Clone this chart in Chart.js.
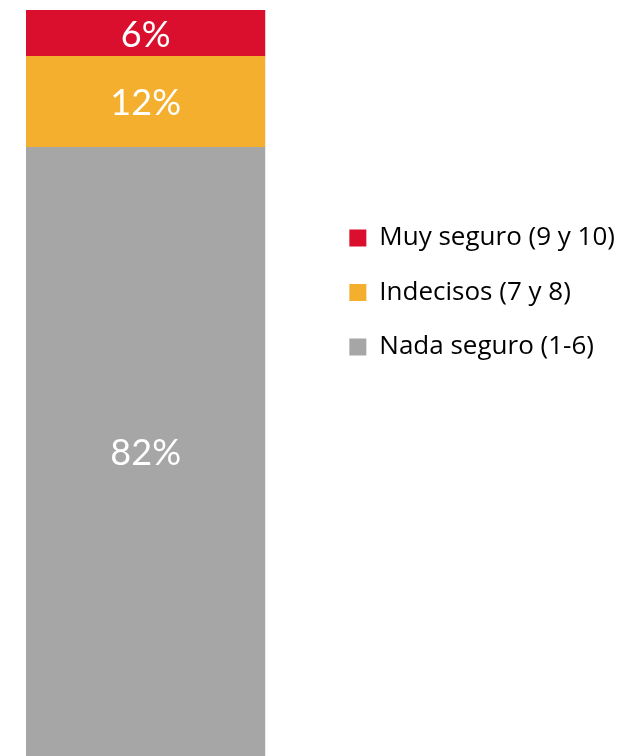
<!DOCTYPE html>
<html>
<head>
<meta charset="utf-8">
<script src="https://cdn.jsdelivr.net/npm/chart.js@4"></script>
<style>
  html, body { margin: 0; padding: 0; background: #fff; }
  #wrap { width: 636px; height: 756px; position: relative; }
</style>
</head>
<body>
<div id="wrap"><canvas id="surveyChart"></canvas></div>
<script>
const categories = ["Total"];
// bottom to top of the stack
const seriesNames = ["Nada seguro (1-6)", "Indecisos (7 y 8)", "Muy seguro (9 y 10)"];
const seriesValues = [[81.6], [12.2], [6.2]];
const seriesColors = ["#a6a6a6", "#f3af2d", "#da0f2d"];

const LABEL_FONT = "Lato, 'Open Sans', sans-serif";
const LEGEND_FONT = "'Open Sans', Lato, sans-serif";

const barLabels = {
  id: "barLabels",
  afterDatasetsDraw(chart) {
    const ctx = chart.ctx;
    ctx.save();
    ctx.fillStyle = "#ffffff";
    ctx.font = "36px " + LABEL_FONT;
    ctx.textAlign = "center";
    ctx.textBaseline = "middle";
    chart.data.datasets.forEach((ds, i) => {
      chart.getDatasetMeta(i).data.forEach((bar, j) => {
        const p = bar.getProps(["x", "y", "base"], true);
        ctx.fillText(Math.round(ds.data[j]) + "%", p.x, (p.y + p.base) / 2 + 2);
      });
    });
    ctx.restore();
  }
};

document.addEventListener("DOMContentLoaded", function () {
  const ctx = document.getElementById("surveyChart");
  new Chart(ctx.getContext("2d"), {
    type: "bar",
    data: {
      labels: categories,
      datasets: seriesNames.map((name, i) => ({
        label: name,
        data: seriesValues[i],
        backgroundColor: seriesColors[i],
        borderWidth: 0,
        barPercentage: 1,
        categoryPercentage: 1,
      })),
    },
    options: {
      responsive: true,
      maintainAspectRatio: false,
      animation: false,
      layout: { padding: { left: 26, top: 10, right: 11, bottom: 0 } },
      scales: {
        x: { stacked: true, display: false },
        y: {
          stacked: true,
          min: 0,
          max: 100,
          position: "right",
          grid: { display: false },
          border: { display: false },
          ticks: { display: false },
          afterFit: (s) => { s.width = 55.5; },
        },
      },
      plugins: {
        tooltip: { enabled: false },
        legend: {
          position: "right",
          align: "start",
          reverse: true,
          maxWidth: 400,
          title: { display: true, text: "", padding: { top: 172.1, bottom: 0 } },
          labels: {
            boxWidth: 17,
            boxHeight: 17,
            padding: 28.5,
            color: "#000000",
            font: { family: LEGEND_FONT, size: 26 },
          },
        },
      },
    },
    plugins: [barLabels],
  });
});
</script>
</body>
</html>
